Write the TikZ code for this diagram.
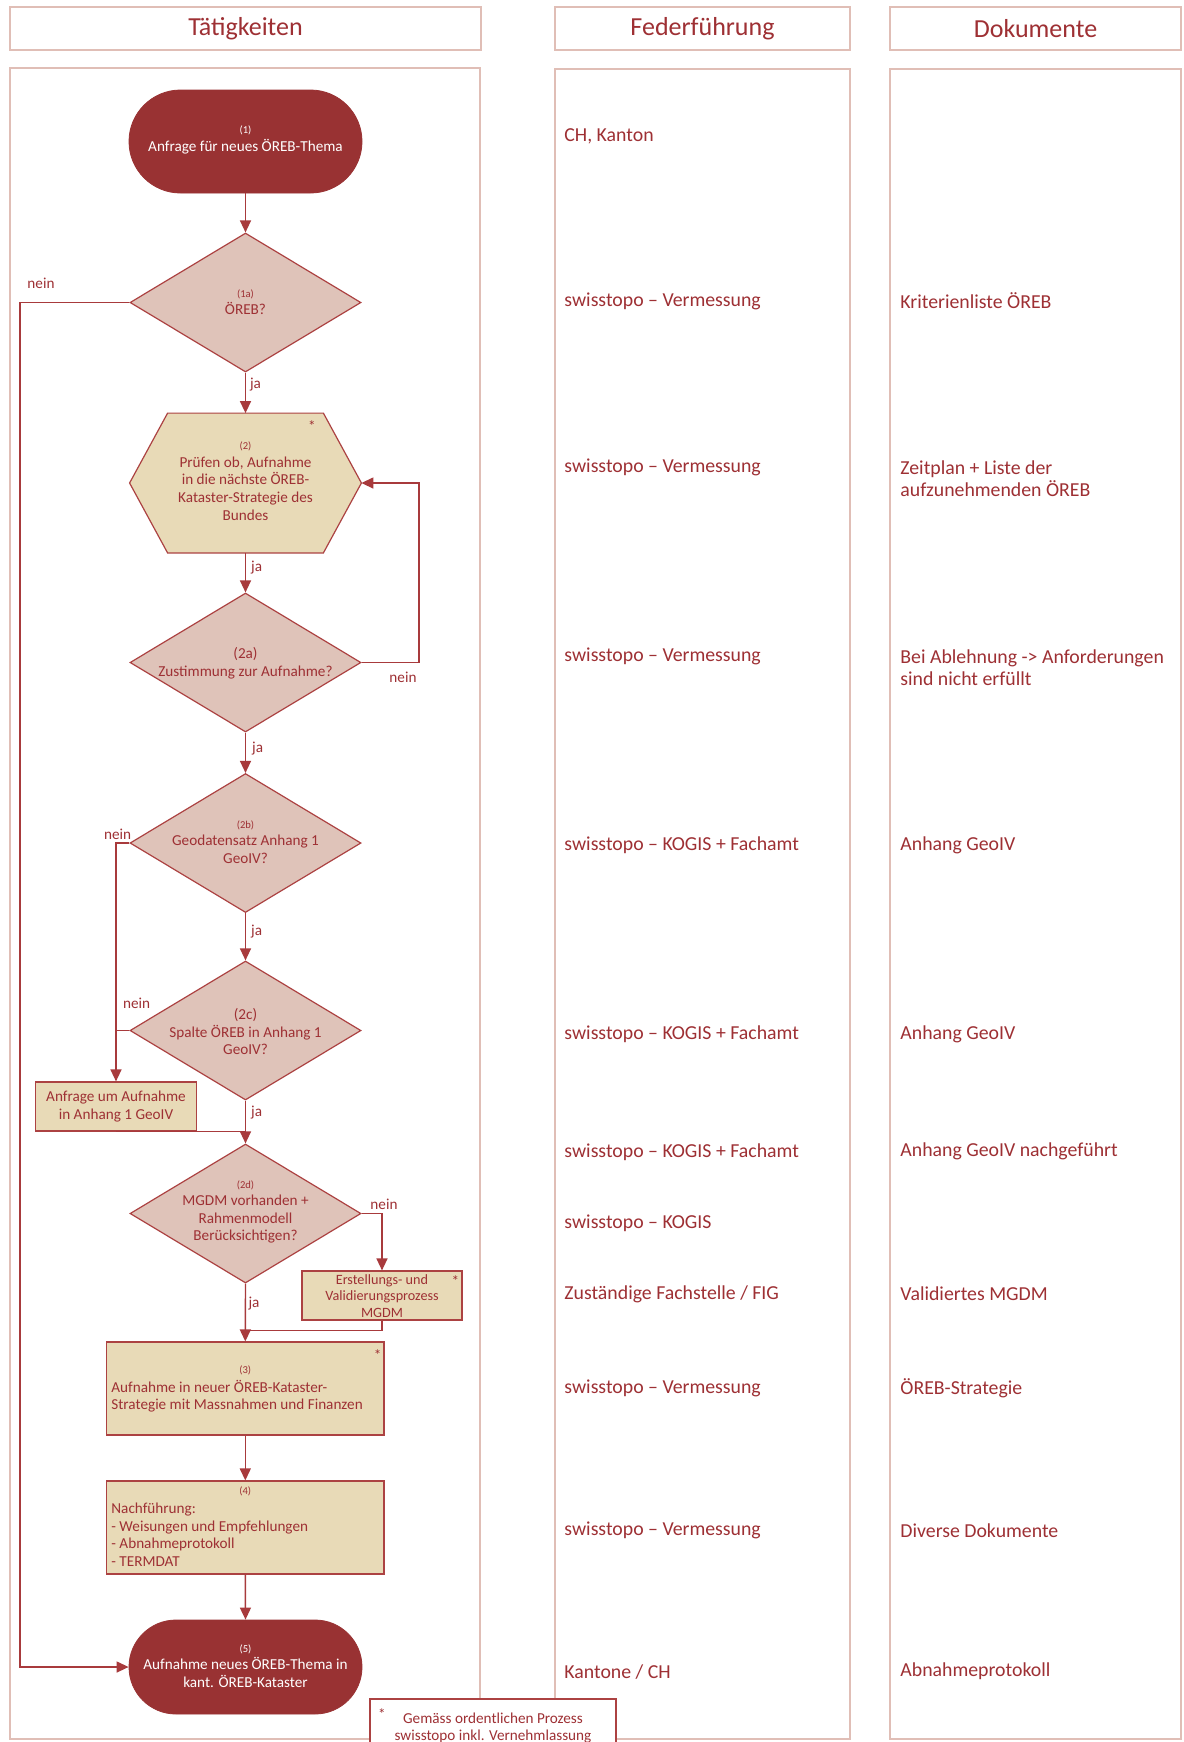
\documentclass[tikz,border=0pt]{standalone}
\usepackage{fontspec}
\setmainfont{Carlito}
\usetikzlibrary{shapes.geometric,shapes.misc,arrows.meta,calc}
\definecolor{tred}{RGB}{158,48,52}
\definecolor{termC}{RGB}{153,50,51}
\definecolor{diaC}{RGB}{223,195,185}
\definecolor{boxC}{RGB}{232,218,183}
\definecolor{shapeC}{RGB}{172,66,66}
\definecolor{lineC}{RGB}{168,58,60}
\definecolor{laneC}{RGB}{224,190,182}
\newcommand{\myN}{\fontsize{7.6}{8.8}\selectfont}
\newcommand{\myE}{\fontsize{7.1}{8.3}\selectfont}
\newcommand{\mySm}{\fontsize{5.3}{6}\selectfont}
\newcommand{\myC}{\fontsize{9.9}{11}\selectfont}
\newcommand{\myH}{\fontsize{13}{15}\selectfont}
\tikzset{
  lanebox/.style={rectangle, draw=laneC, line width=1pt, inner sep=0pt},
  term/.style={rounded rectangle, fill=termC, draw=termC, minimum width=116.5pt, minimum height=51.5pt, inner sep=0pt},
  dia/.style={diamond, fill=diaC, draw=shapeC, line width=0.6pt, minimum width=115.5pt, minimum height=69.5pt, inner sep=0pt},
  procbox/.style={rectangle, fill=boxC, draw=shapeC, line width=0.6pt, inner sep=0pt},
  ntext/.style={text=tred, font=\myN, align=center, inner sep=0pt},
  wtext/.style={text=white, font=\myN, align=center, inner sep=0pt},
  conn/.style={draw=lineC, line width=0.7pt},
  arr/.style={conn, -{Triangle[length=6pt,width=5.5pt]}},
  yn/.style={text=tred, font=\myN, inner sep=0pt},
  coltext/.style={text=tred, font=\myC, anchor=west, align=left, inner sep=0pt},
  headtext/.style={text=tred, font=\myH},
  star/.style={text=tred, font=\myN, inner sep=0pt},
}
\begin{document}
\begin{tikzpicture}[x=0.5pt,y=-0.5pt]
\useasboundingbox (0,0) rectangle (1184,1742);
\fill[white] (0,0) rectangle (1184,1742);

% lanes
\node[lanebox, minimum width=235.5pt, minimum height=21.5pt, headtext] (h1) at (245.5,28.5) {Tätigkeiten};
\node[lanebox, minimum width=147.5pt, minimum height=21.5pt, headtext] (h2) at (702.5,28.5) {Federführung};
\node[lanebox, minimum width=145.5pt, minimum height=21.5pt, headtext] (h3) at (1035.5,28.5) {Dokumente};
\node[lanebox, minimum width=235pt, minimum height=835.5pt] (l1) at (245,903.5) {};
\node[lanebox, minimum width=147.5pt, minimum height=835pt] (l2) at (702.5,904) {};
\node[lanebox, minimum width=145.5pt, minimum height=835pt] (l3) at (1035.5,904) {};

% shapes
\node[term] (t1) at (245.5,141.5) {};
\node[dia] (d1a) at (245.5,302.5) {};
\node[rectangle, minimum width=115.5pt, minimum height=69.5pt, inner sep=0pt] (hex) at (245.5,483) {};
\fill[boxC, draw=shapeC, line width=0.6pt] (hex.west) -- ($(hex.north west)+(38,0)$) -- ($(hex.north east)+(-38,0)$) -- (hex.east) -- ($(hex.south east)+(-38,0)$) -- ($(hex.south west)+(38,0)$) -- cycle;
\node[dia] (d2a) at (245.5,662.5) {};
\node[dia] (d2b) at (245.5,843) {};
\node[dia] (d2c) at (245.5,1030.5) {};
\node[procbox, minimum width=80.5pt, minimum height=24.5pt] (anf) at (116,1106.5) {};
\node[dia] (d2d) at (245.5,1213.5) {};
\node[procbox, minimum width=80pt, minimum height=24.5pt] (erst) at (382,1295.5) {};
\node[procbox, minimum width=138.75pt, minimum height=46.5pt] (b3) at (245.3,1388.5) {};
\node[procbox, minimum width=138.75pt, minimum height=46.5pt] (b4) at (245.3,1527.5) {};
\node[term, minimum height=47pt] (t5) at (245.5,1667) {};

% helper coordinates
\coordinate (lx1) at (20,0);
\coordinate (lx2) at (419,0);
\coordinate (j3) at ($(b3.north)+(0,-11)$);

% connectors
\draw[arr] (t1.south) -- (d1a.north);
\draw[arr] (d1a.west) -- (d1a.west -| lx1) |- (t5.west);
\draw[arr] (d1a.south) -- (hex.north);
\draw[arr] (hex.south) -- (d2a.north);
\draw[arr] (d2a.east) -- (d2a.east -| lx2) |- (hex.east);
\draw[arr] (d2a.south) -- (d2b.north);
\draw[arr] (d2b.west) -| (anf.north);
\draw[conn] (d2c.west) -- (d2c.west -| anf.north);
\draw[arr] (d2b.south) -- (d2c.north);
\draw[arr] (d2c.south) -- (d2d.north);
\draw[conn] (anf.south) -- (anf.south -| d2d.north);
\draw[arr] (d2d.east) -| (erst.north);
\draw[arr] (d2d.south) -- (b3.north);
\draw[conn] (erst.south) |- (j3);
\draw[arr] (b3.south) -- (b4.north);
\draw[arr] (b4.south) -- (t5.north);

% texts in shapes
\node[wtext] (t1t) at (245.5,140) {{\mySm (1)}\\Anfrage für neues ÖREB-Thema};
\node[ntext] (d1at) at (245.5,302) {{\mySm (1a)}\\ÖREB?};
\node[ntext] (hext) at (245.5,481) {{\mySm (2)}\\Prüfen ob, Aufnahme\\in die nächste ÖREB-\\Kataster-Strategie des\\Bundes};
\node[star] (hexs) at (312,426.5) {*};
\node[ntext] (d2at) at (245.5,663.5) {(2a)\\Zustimmung zur Aufnahme?};
\node[ntext] (d2bt) at (245.5,842) {{\mySm (2b)}\\Geodatensatz Anhang 1\\GeoIV?};
\node[ntext] (d2ct) at (245.5,1031.5) {(2c)\\Spalte ÖREB in Anhang 1\\GeoIV?};
\node[ntext] (anft) at (anf.center) {Anfrage um Aufnahme\\in Anhang 1 GeoIV};
\node[ntext] (d2dt) at (245.5,1212) {{\mySm (2d)}\\MGDM vorhanden +\\Rahmenmodell\\Berücksichtigen?};
\node[ntext, font=\myE] (erstt) at (382,1296) {Erstellungs- und\\Validierungsprozess\\MGDM};
\node[star] (ersts) at (455.4,1280.6) {*};
\node[ntext] (b3n) at (245.3,1370.6) {\mySm (3)};
\node[ntext, anchor=west, align=left] (b3t) at (111,1396) {Aufnahme in neuer ÖREB-Kataster-\\Strategie mit Massnahmen und Finanzen};
\node[star] (b3s) at (377.6,1355) {*};
\node[ntext] (b4n) at (245.3,1491.7) {\mySm (4)};
\node[ntext, anchor=west, align=left] (b4t) at (111,1534.8) {Nachführung:\\- Weisungen und Empfehlungen\\- Abnahmeprotokoll\\- TERMDAT};
\node[wtext] (t5t) at (245.5,1666) {{\mySm (5)}\\Aufnahme neues ÖREB-Thema in\\kant. ÖREB-Kataster};

% yes / no labels
\node[yn] (n1) at (41,283) {nein};
\node[yn] (y1) at (255.5,385) {ja};
\node[yn] (y2) at (256.6,567.6) {ja};
\node[yn] (n2) at (403,677.5) {nein};
\node[yn] (y3) at (257.7,748.6) {ja};
\node[yn] (n3) at (117.7,834) {nein};
\node[yn] (y4) at (256.6,932) {ja};
\node[yn] (n4) at (136.6,1003) {nein};
\node[yn] (y5) at (256.6,1113) {ja};
\node[yn] (n5) at (384,1204) {nein};
\node[yn] (y6) at (254,1304) {ja};

% Federfuehrung
\node[coltext] (f1) at (564,136.6) {CH, Kanton};
\node[coltext] (f2) at (564,301) {swisstopo – Vermessung};
\node[coltext] (f3) at (564,467.6) {swisstopo – Vermessung};
\node[coltext] (f4) at (564,656.4) {swisstopo – Vermessung};
\node[coltext] (f5) at (564,845.2) {swisstopo – KOGIS + Fachamt};
\node[coltext] (f6) at (564,1034) {swisstopo – KOGIS + Fachamt};
\node[coltext] (f7) at (564,1151.8) {swisstopo – KOGIS + Fachamt};
\node[coltext] (f8) at (564,1222.9) {swisstopo – KOGIS};
\node[coltext] (f9) at (564,1294) {Zuständige Fachstelle / FIG};
\node[coltext] (f10) at (564,1388.4) {swisstopo – Vermessung};
\node[coltext] (f11) at (564,1530.5) {swisstopo – Vermessung};
\node[coltext] (f12) at (564,1671.6) {Kantone / CH};

% Dokumente
\node[coltext] (k1) at (900,301) {Kriterienliste ÖREB};
\node[coltext] (k2) at (900,478.7) {Zeitplan + Liste der\\aufzunehmenden ÖREB};
\node[coltext] (k3) at (900,668) {Bei Ablehnung -> Anforderungen\\sind nicht erfüllt};
\node[coltext] (k4) at (900,845.2) {Anhang GeoIV};
\node[coltext] (k5) at (900,1034) {Anhang GeoIV};
\node[coltext] (k6) at (900,1151.8) {Anhang GeoIV nachgeführt};
\node[coltext] (k7) at (900,1294) {Validiertes MGDM};
\node[coltext] (k8) at (900,1388.4) {ÖREB-Strategie};
\node[coltext] (k9) at (900,1530.5) {Diverse Dokumente};
\node[coltext] (k10) at (900,1671.6) {Abnahmeprotokoll};

% footnote
\node[rectangle, fill=white, draw=shapeC, line width=0.6pt, minimum width=123pt, minimum height=30.5pt, inner sep=0pt] (fn) at (493,1729.5) {};
\node[star] (fns) at (382,1714) {*};
\node[ntext] (fnt) at (493,1728) {Gemäss ordentlichen Prozess\\swisstopo inkl. Vernehmlassung};
\end{tikzpicture}
\end{document}
